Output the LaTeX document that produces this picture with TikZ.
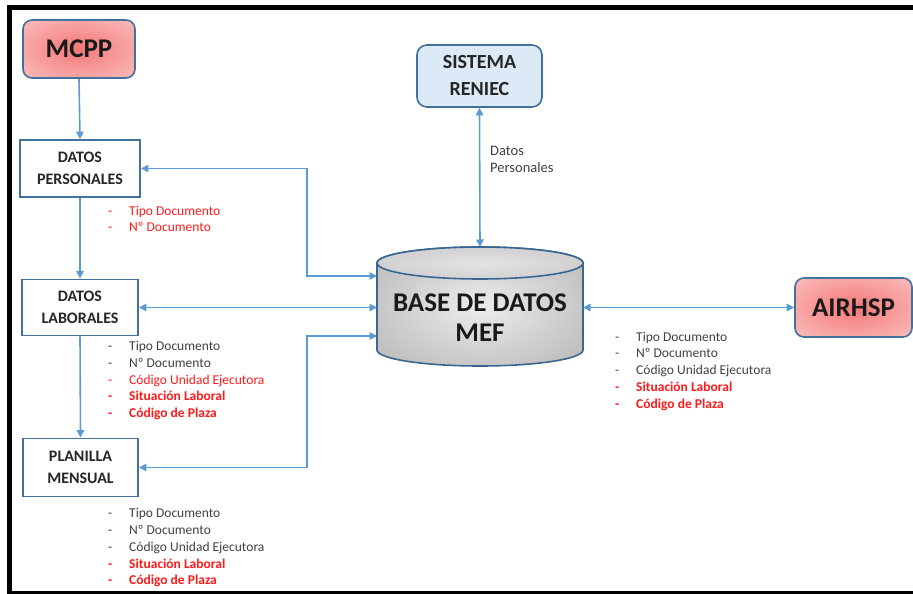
\documentclass[tikz,border=0pt]{standalone}
\usepackage{fontspec}
\setmainfont{Carlito}
\usetikzlibrary{arrows.meta,calc}
\definecolor{boxblue}{HTML}{41719C}
\definecolor{dbline}{HTML}{3A6790}
\definecolor{lineblue}{HTML}{5B9BD5}
\definecolor{txtgray}{HTML}{404040}
\definecolor{txtred}{HTML}{FF1A1A}
\definecolor{redin}{HTML}{F47878}
\definecolor{redout}{HTML}{FCD4D4}
\definecolor{grayin}{HTML}{ECECEC}
\definecolor{grayout}{HTML}{A2A2A2}
\definecolor{topin}{HTML}{E4E4E4}
\definecolor{topout}{HTML}{BDBDBD}
\definecolor{bluefill}{HTML}{DCE9F6}
\pgfdeclareradialshading{redglow}{\pgfpointorigin}{color(0bp)=(redin); color(48bp)=(redout); color(50bp)=(redout)}
\pgfdeclareradialshading{grayglow}{\pgfpointorigin}{color(0bp)=(grayin); color(50bp)=(grayout)}
\pgfdeclareradialshading{topglow}{\pgfpointorigin}{color(0bp)=(topin); color(50bp)=(topout)}
\newcommand{\dsh}[1]{\makebox[21pt][l]{-}#1}
\begin{document}
\begin{tikzpicture}[x=1pt,y=-1pt,
  tip/.tip={Triangle[length=7.5pt,width=7.5pt]},
  conn/.style={draw=lineblue, line width=1.6pt, -tip},
  twoway/.style={draw=lineblue, line width=1.6pt, tip-tip},
  procbox/.style={draw=boxblue, line width=1.9pt, fill=white, inner sep=0pt, align=center,
    font=\fontsize{16}{22}\selectfont\bfseries, text=black!85},
  redbox/.style={draw=boxblue, line width=1.6pt, rounded corners=9pt, shading=redglow,
    inner sep=0pt, font=\fontsize{27}{30}\selectfont\bfseries, text=black!90},
  bluebox/.style={draw=boxblue, line width=1.6pt, rounded corners=10pt, fill=bluefill,
    inner sep=0pt, align=center, font=\fontsize{20}{27}\selectfont\bfseries, text=black!85},
  listitem/.style={anchor=base west, inner sep=0pt, font=\fontsize{13.5}{16}\selectfont},
  gitem/.style={listitem, text=txtgray},
  ritem/.style={listitem, text=txtred},
  bitem/.style={listitem, text=txtred, font=\fontsize{13.5}{16}\selectfont\bfseries},
  lbl/.style={anchor=west, inner sep=0pt, align=left, text=txtgray, font=\fontsize{14.5}{17.5}\selectfont}
]
\useasboundingbox (0,0) rectangle (913,594);

% frame
\draw[line width=5pt] (925,7.5) -- (9.8,7.5) -- (9.8,593) -- (925,593);

% database cylinder
\shadedraw[shading=grayglow, draw=dbline, line width=1.6pt]
  (377,263) -- (377,350) arc[start angle=180,end angle=0,x radius=103,y radius=16]
  -- (583,263) arc[start angle=0,end angle=-180,x radius=103,y radius=16] -- cycle;
\shadedraw[shading=topglow, draw=dbline, line width=1.6pt]
  (480,263) ellipse[x radius=103, y radius=16];
\node[align=center, inner sep=0pt, font=\fontsize{27}{30}\selectfont\bfseries, text=black!90]
  (db) at (480,318) {BASE DE DATOS\\MEF};
\coordinate (dbT) at (480,247);
\coordinate (dbL1) at (377,276);
\coordinate (dbL2) at (377,307.5);
\coordinate (dbL3) at (377,336);
\coordinate (dbR) at (583,307.5);
\coordinate (jtop) at (307,276);
\coordinate (jbot) at (307,336);

% boxes
\node[redbox, minimum width=112pt, minimum height=58pt] (mcpp) at (79,49) {MCPP};
\node[procbox, minimum width=120pt, minimum height=57pt] (dp) at (80,168.5) {DATOS\\PERSONALES};
\node[procbox, minimum width=116pt, minimum height=56pt] (dl) at (80,307.5) {DATOS\\LABORALES};
\node[procbox, minimum width=115pt, minimum height=58pt] (pm) at (80.5,467.5) {PLANILLA\\MENSUAL};
\node[bluebox, minimum width=125pt, minimum height=62pt] (reniec) at (479.5,76) {SISTEMA\\RENIEC};
\node[redbox, minimum width=117pt, minimum height=59pt] (airhsp) at (853.5,307.5) {AIRHSP};

% connectors
\draw[conn] (mcpp.south) -- (dp.north);
\draw[conn] (dp.south) -- (dl.north);
\draw[conn] (dl.south) -- (pm.north);
\draw[twoway] (dp.east) -| (jtop) -- (dbL1);
\draw[twoway] (dl.east) -- (dbL2);
\draw[twoway] (pm.east) -| (jbot) -- (dbL3);
\draw[twoway] (reniec.south) -- (dbT);
\draw[twoway] (dbR) -- (airhsp.west);

\node[lbl] (lblrn) at (490,159.5) {Datos\\Personales};

% lists
\node[ritem] (p1) at (108,215) {\dsh{Tipo Documento}};
\node[ritem] (p2) at (108,231.5) {\dsh{Nº Documento}};

\node[gitem] (l1) at (108,350.5) {\dsh{Tipo Documento}};
\node[gitem] (l2) at (108,367) {\dsh{Nº Documento}};
\node[ritem] (l3) at (108,384) {\dsh{Código Unidad Ejecutora}};
\node[bitem] (l4) at (108,400.8) {\dsh{Situación Laboral}};
\node[bitem] (l5) at (108,417.5) {\dsh{Código de Plaza}};

\node[gitem] (m1) at (108,517.5) {\dsh{Tipo Documento}};
\node[gitem] (m2) at (108,534) {\dsh{Nº Documento}};
\node[gitem] (m3) at (108,551) {\dsh{Código Unidad Ejecutora}};
\node[bitem] (m4) at (108,568) {\dsh{Situación Laboral}};
\node[bitem] (m5) at (108,584.5) {\dsh{Código de Plaza}};

\node[gitem] (a1) at (615,341) {\dsh{Tipo Documento}};
\node[gitem] (a2) at (615,357.7) {\dsh{Nº Documento}};
\node[gitem] (a3) at (615,374.7) {\dsh{Código Unidad Ejecutora}};
\node[bitem] (a4) at (615,391.3) {\dsh{Situación Laboral}};
\node[bitem] (a5) at (615,408.3) {\dsh{Código de Plaza}};
\end{tikzpicture}
\end{document}
